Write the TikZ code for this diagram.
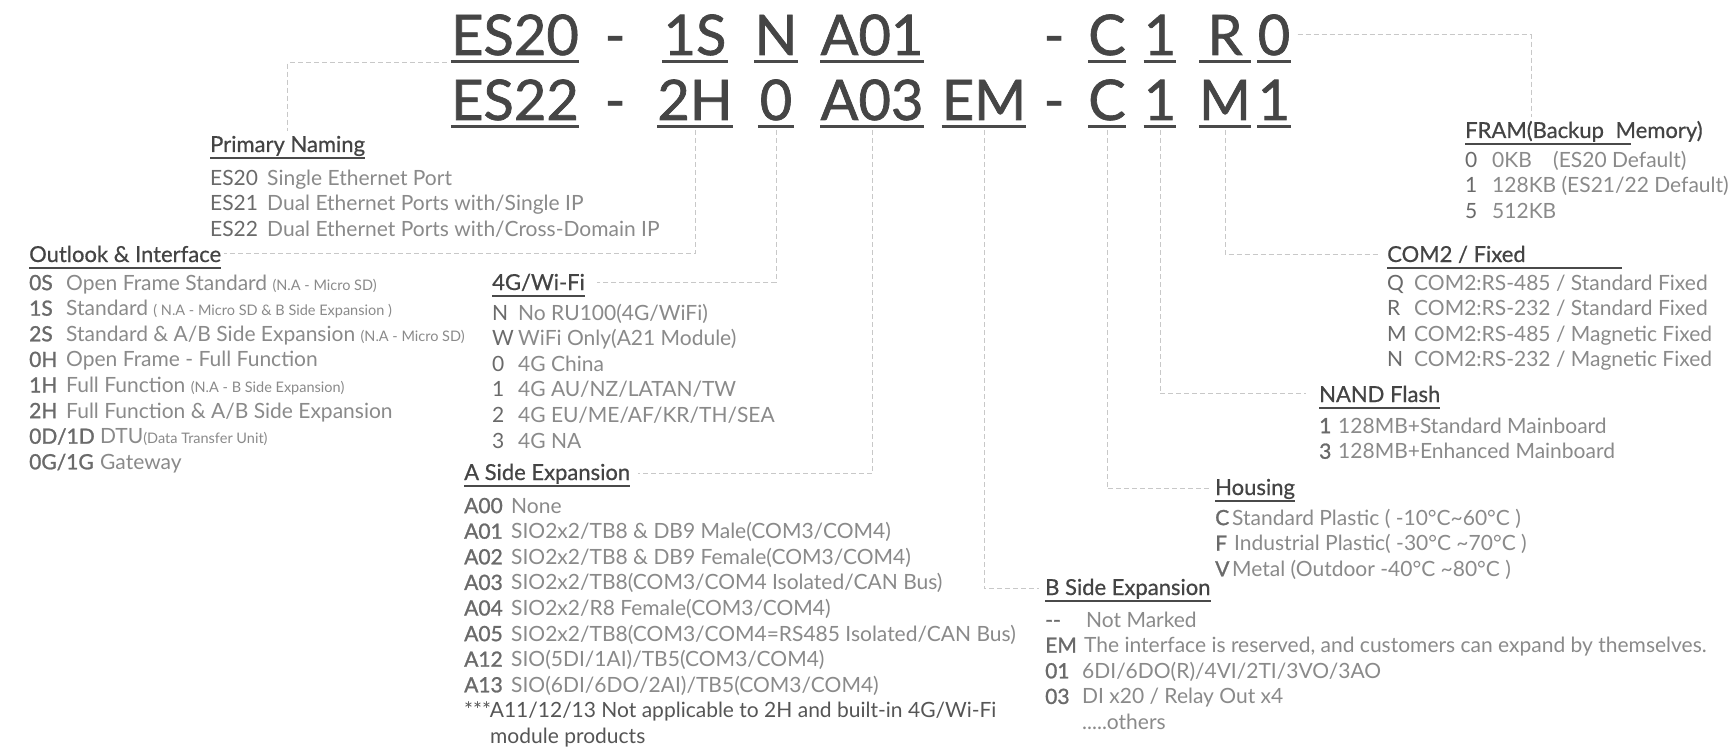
\documentclass[tikz,border=0pt]{standalone}
\usepackage{fontspec}
\setmainfont{Lato}
\newfontfamily\codefont{Lato}[FakeBold=1.2]
\newfontfamily\headfont{Lato}[FakeBold=0.6]
\usetikzlibrary{positioning}
\usepackage{xcolor}
\definecolor{bigtext}{HTML}{454545}
\definecolor{headgray}{HTML}{444444}
\definecolor{rulegray}{HTML}{4A4A4A}
\definecolor{codegray}{HTML}{6A6A6A}
\definecolor{descgray}{HTML}{8A8A8A}
\definecolor{notegray}{HTML}{555555}
\definecolor{linkgray}{HTML}{C8C8C8}

% code column of a list line (semibold / plain)
\newcommand{\cdb}[2]{\makebox[#1][l]{\codefont\color{codegray}#2}}
\newcommand{\cdn}[2]{\makebox[#1][l]{\color{codegray}#2}}
\newcommand{\smalltxt}[1]{{\fontsize{14.5}{14.5}\selectfont #1}}

\begin{document}
\begin{tikzpicture}[
  x=1pt, y=1pt,
  seg/.style={inner sep=0pt, anchor=base, text=bigtext, font=\codefont\fontsize{56}{60}\selectfont},
  hyph/.style={inner sep=0pt, anchor=base, text=bigtext, font=\codefont\fontsize{56}{60}\selectfont},
  head/.style={inner sep=0pt, anchor=base west, text=headgray, font=\headfont\fontsize{22}{26}\selectfont},
  lst/.style={inner sep=0pt, align=left, text=descgray, font=\fontsize{21}{25.6}\selectfont},
  lnk/.style={draw=linkgray, line width=1pt, dash pattern=on 5pt off 3pt},
  uline/.style={draw=rulegray, line width=3pt},
  hline/.style={draw=rulegray, line width=2.2pt}
]
\fill[white] (0,0) rectangle (1735,-749);
\useasboundingbox (0,0) rectangle (1735,-749);

% part number, first row
\node[seg, minimum width=122pt] (pn1) at (515,-55) {ES20};
\node[hyph] (dA1) at (615,-55) {-};
\node[seg, minimum width=66pt] (oi1) at (695,-55) {1S};
\node[seg, minimum width=36pt] (wf1) at (776,-55) {N};
\node[seg, minimum width=98pt] (as1) at (872,-55) {A01};
\node[hyph] (dB1) at (1054,-55) {-};
\node[seg, minimum width=34pt] (hs1) at (1107,-55) {C};
\node[seg, minimum width=31pt] (nf1) at (1160,-55) {1};
\node[seg, minimum width=51pt] (cm1) at (1225,-55) {R};
\node[seg, minimum width=33pt] (fr1) at (1274,-55) {0};

% part number, second row
\node[seg, minimum width=122pt] (pn2) at (515,-120) {ES22};
\node[hyph] (dA2) at (615,-120) {-};
\node[seg, minimum width=66pt] (oi2) at (695,-120) {2H};
\node[seg, minimum width=36pt] (wf2) at (776,-120) {0};
\node[seg, minimum width=98pt] (as2) at (872,-120) {A03};
\node[seg, minimum width=76pt] (bs2) at (984,-120) {EM};
\node[hyph] (dB2) at (1054,-120) {-};
\node[seg, minimum width=34pt] (hs2) at (1107,-120) {C};
\node[seg, minimum width=31pt] (nf2) at (1160,-120) {1};
\node[seg, minimum width=51pt] (cm2) at (1225,-120) {M};
\node[seg, minimum width=33pt] (fr2) at (1274,-120) {1};

\foreach \n in {pn1,oi1,wf1,as1,hs1,nf1,cm1,fr1,pn2,oi2,wf2,as2,bs2,hs2,nf2,cm2,fr2}
  \draw[uline] ([yshift=-7pt]\n.base west) -- ([yshift=-7pt]\n.base east);

% headings
\node[head] (hPN) at (210,-152) {Primary Naming};
\node[head] (hOI) at (29,-262) {Outlook \& Interface};
\node[head] (hWF) at (492,-290) {4G/Wi-Fi};
\node[head] (hAS) at (464,-480) {A Side Expansion};
\node[head] (hFR) at (1465,-138) {FRAM(Backup\hspace{6pt} Memory)};
\node[head] (hCM) at (1387,-262) {COM2 / Fixed};
\node[head] (hNF) at (1319,-402) {NAND Flash};
\node[head] (hHS) at (1215,-495) {Housing};
\node[head] (hBS) at (1045,-595) {B Side Expansion};

\draw[hline] ([yshift=-6pt]hPN.base west) -- ([yshift=-6pt]hPN.base east);
\draw[hline] ([yshift=-6pt]hOI.base west) -- ([yshift=-6pt]hOI.base east);
\draw[hline] ([yshift=-6pt]hWF.base west) -- ([yshift=-6pt]hWF.base east);
\draw[hline] ([yshift=-6pt]hAS.base west) -- ([yshift=-6pt]hAS.base east);
\draw[hline] ([yshift=-6pt]hFR.base west) -- +(166,0);
\draw[hline] ([yshift=-6pt]hCM.base west) -- +(235,0);
\draw[hline] ([yshift=-6pt]hNF.base west) -- ([yshift=-6pt]hNF.base east);
\draw[hline] ([yshift=-6pt]hHS.base west) -- ([yshift=-6pt]hHS.base east);
\draw[hline] ([yshift=-6pt]hBS.base west) -- ([yshift=-6pt]hBS.base east);

% option lists
\node[lst, below right=15pt and 0pt of hPN.base west] (lPN) {\strut\cdn{57pt}{ES20}Single Ethernet Port\\
  \cdn{57pt}{ES21}Dual Ethernet Ports with/Single IP\\
  \cdn{57pt}{ES22}Dual Ethernet Ports with/Cross-Domain IP};
\node[lst, below right=10pt and 0pt of hOI.base west] (lOI) {\strut\cdb{37pt}{0S}Open Frame Standard \smalltxt{(N.A - Micro SD)}\\
  \cdb{37pt}{1S}Standard \smalltxt{( N.A - Micro SD \& B Side Expansion )}\\
  \cdb{37pt}{2S}Standard \& A/B Side Expansion \smalltxt{(N.A - Micro SD)}\\
  \cdb{37pt}{0H}Open Frame - Full Function\\
  \cdb{37pt}{1H}Full Function \smalltxt{(N.A - B Side Expansion)}\\
  \cdb{37pt}{2H}Full Function \& A/B Side Expansion\\
  \cdb{71pt}{0D/1D}DTU\smalltxt{(Data Transfer Unit)}\\
  \cdb{71pt}{0G/1G}Gateway};
\node[lst, below right=12pt and 0pt of hWF.base west] (lWF) {\strut\cdn{26pt}{N}No RU100(4G/WiFi)\\
  \cdn{26pt}{W}WiFi Only(A21 Module)\\
  \cdn{26pt}{0}4G China\\
  \cdn{26pt}{1}4G AU/NZ/LATAN/TW\\
  \cdn{26pt}{2}4G EU/ME/AF/KR/TH/SEA\\
  \cdn{26pt}{3}4G NA};
\node[lst, below right=15pt and 0pt of hAS.base west] (lAS) {\strut\cdb{47pt}{A00}None\\
  \cdb{47pt}{A01}SIO2x2/TB8 \& DB9 Male(COM3/COM4)\\
  \cdb{47pt}{A02}SIO2x2/TB8 \& DB9 Female(COM3/COM4)\\
  \cdb{47pt}{A03}SIO2x2/TB8(COM3/COM4 Isolated/CAN Bus)\\
  \cdb{47pt}{A04}SIO2x2/R8 Female(COM3/COM4)\\
  \cdb{47pt}{A05}SIO2x2/TB8(COM3/COM4=RS485 Isolated/CAN Bus)\\
  \cdb{47pt}{A12}SIO(5DI/1AI)/TB5(COM3/COM4)\\
  \cdb{47pt}{A13}SIO(6DI/6DO/2AI)/TB5(COM3/COM4)\\
  \textcolor{notegray}{***A11/12/13 Not applicable to 2H and built-in 4G/Wi-Fi}\\
  \hspace*{26pt}\textcolor{notegray}{module products}};
\node[lst, below right=11pt and 0pt of hFR.base west] (lFR) {\strut\cdn{27pt}{0}\makebox[61pt][l]{0KB}(ES20 Default)\\
  \cdn{27pt}{1}128KB (ES21/22 Default)\\
  \cdn{27pt}{5}512KB};
\node[lst, below right=10pt and 0pt of hCM.base west] (lCM) {\strut\cdn{27pt}{Q}COM2:RS-485 / Standard Fixed\\
  \cdn{27pt}{R}COM2:RS-232 / Standard Fixed\\
  \cdn{27pt}{M}COM2:RS-485 / Magnetic Fixed\\
  \cdn{27pt}{N}COM2:RS-232 / Magnetic Fixed};
\node[lst, below right=13pt and 0pt of hNF.base west] (lNF) {\strut\cdb{19pt}{1}128MB+Standard Mainboard\\
  \cdb{19pt}{3}128MB+Enhanced Mainboard};
\node[lst, below right=12pt and 0pt of hHS.base west] (lHS) {\strut\cdb{17pt}{C}Standard Plastic ( -10°C\textasciitilde 60°C )\\
  \cdb{19pt}{F}Industrial Plastic( -30°C \textasciitilde 70°C )\\
  \cdb{17pt}{V}Metal (Outdoor -40°C \textasciitilde 80°C )};
\node[lst, below right=14pt and 0pt of hBS.base west] (lBS) {\strut\cdb{41pt}{-{}-}Not Marked\\
  \cdb{39pt}{EM}The interface is reserved, and customers can expand by themselves.\\
  \cdb{37pt}{01}6DI/6DO(R)/4VI/2TI/3VO/3AO\\
  \cdb{37pt}{03}DI x20 / Relay Out x4\\
  \hspace*{37pt}.....others};

% leader lines
\draw[lnk] ([xshift=-4pt,yshift=-8pt]pn1.base west) -| ([yshift=5pt]hPN.north);
\draw[lnk] ([yshift=-10pt]oi2.base) |- ([xshift=3pt]hOI.east);
\draw[lnk] ([yshift=-10pt]wf2.base) |- ([xshift=12pt]hWF.east);
\draw[lnk] ([yshift=-10pt]as2.base) |- ([xshift=8pt]hAS.east);
\draw[lnk] ([yshift=-10pt]bs2.base) |- ([xshift=-6pt]hBS.west);
\draw[lnk] ([yshift=-10pt]hs2.base) |- ([xshift=-6pt]hHS.west);
\draw[lnk] ([yshift=-10pt]nf2.base) |- ([xshift=-13pt]hNF.west);
\draw[lnk] ([yshift=-10pt]cm2.base) |- ([xshift=-9pt]hCM.west);
\draw[lnk] ([xshift=7pt]fr1.east) -| ([xshift=66pt,yshift=4pt]hFR.north west);
\end{tikzpicture}
\end{document}
